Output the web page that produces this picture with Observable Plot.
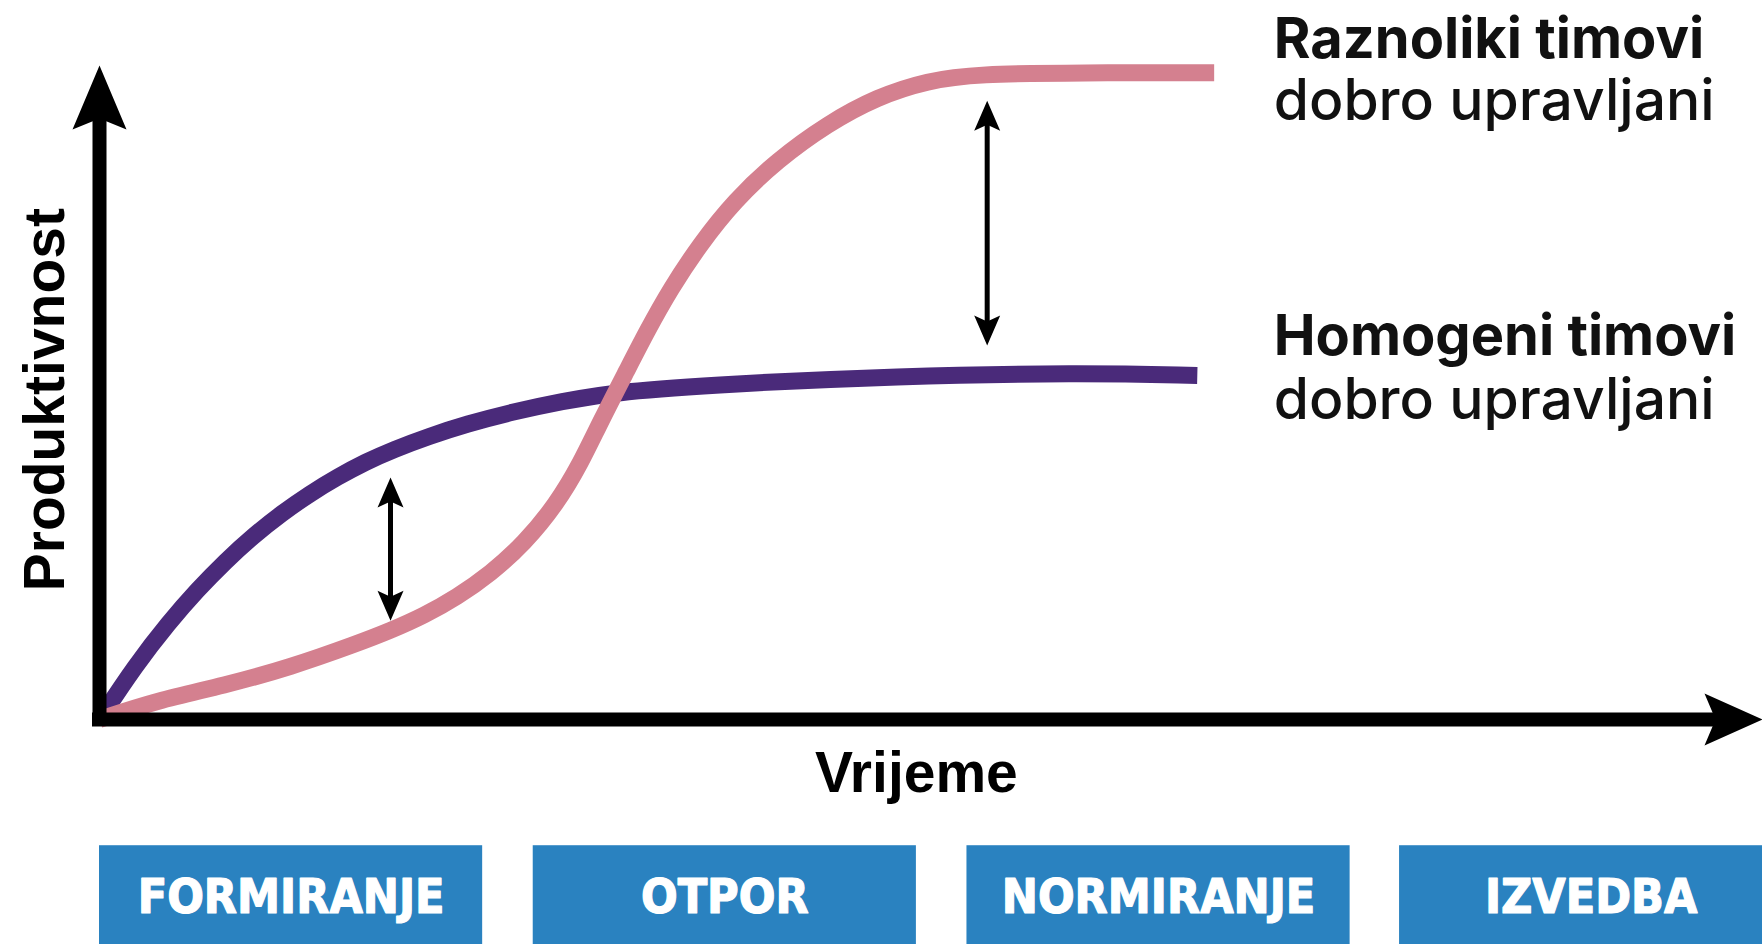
<!DOCTYPE html>
<html>
<head>
<meta charset="utf-8">
<script src="https://cdn.jsdelivr.net/npm/d3@7"></script>
<script src="https://cdn.jsdelivr.net/npm/@observablehq/plot@0.6"></script>
<style>
  html, body { margin: 0; padding: 0; background: #ffffff; }
  #chart svg { display: block; }
</style>
</head>
<body>
<div id="chart"></div>
<script>
// ---- Data ----
// Time axis units (0 = origin) and productivity units (0 = baseline, 100 = top of axis)
const homogeniTime = [0, 3.2, 6.2, 8.7, 11.2, 13.7, 16.2, 18.7, 21.2, 23.7, 26.2, 29.3, 32.7, 36.7, 41.0, 46.4, 55.9, 70.7, 87.3, 97.7];
const homogeniProd = [0, 8.3, 14.9, 19.8, 24.2, 28.1, 31.5, 34.5, 37.1, 39.4, 41.3, 43.3, 45.2, 47.0, 48.6, 50.2, 51.3, 52.5, 53.0, 52.6];

const raznolikiTime = [0, 5.1, 11.1, 17.0, 22.9, 25.9, 28.9, 31.8, 34.8, 37.8, 40.7, 42.8, 44.6, 47.0, 48.7, 50.8, 53.5, 56.5, 60.3, 64.8, 69.2, 73.7, 78.1, 87.3, 99.2];
const raznolikiProd = [0, 2.9, 5.2, 8.0, 11.6, 13.6, 15.9, 18.7, 22.3, 26.9, 33.0, 39.1, 45.6, 53.6, 59.3, 65.8, 72.8, 79.3, 85.5, 91.1, 95.2, 97.7, 98.7, 98.9, 98.9];

// Gap arrows between the two curves
const gapTime = [25.9, 79.0];
const gapLow  = [15.1, 57.2];
const gapHigh = [37.0, 94.6];

// Team-development phases (time spans)
const phases     = ["FORMIRANJE", "OTPOR", "NORMIRANJE", "IZVEDBA"];
const phaseStart = [0, 38.6, 77.2, 115.7];
const phaseEnd   = [34.1, 72.7, 111.3, 149.8];

// Labels
const seriesNames = ["Raznoliki timovi", "Homogeni timovi"];
const seriesSub   = ["dobro upravljani", "dobro upravljani"];
const yLabel = "Produktivnost";
const xLabel = "Vrijeme";

// ---- Layout constants ----
const X_MAX = 148, Y_MAX = 100;
const PINK = "#d4808f", PURPLE = "#4a2a7a", BLUE = "#2a82c0";

// Arrow-head symbol (notched triangle). dir: "right" | "up" | "down"
function head(dir, len, wid, notch) {
  const base = [[0, 0], [-len, -wid / 2], [-len + notch, 0], [-len, wid / 2]];
  const rot = dir === "right" ? ([a, b]) => [a, b]
            : dir === "up"    ? ([a, b]) => [b, -a]
            :                   ([a, b]) => [-b, a];
  const pts = base.map(rot);
  return {
    draw(ctx) {
      ctx.moveTo(pts[0][0], pts[0][1]);
      for (let i = 1; i < pts.length; ++i) ctx.lineTo(pts[i][0], pts[i][1]);
      ctx.closePath();
    }
  };
}

const homogeni = homogeniTime.map((t, i) => ({t, p: homogeniProd[i]}));
const raznoliki = raznolikiTime.map((t, i) => ({t, p: raznolikiProd[i]}));
const gaps = gapTime.map((t, i) => ({t, lo: gapLow[i], hi: gapHigh[i]}));
const phaseRows = phases.map((name, i) => ({name, x1: phaseStart[i], x2: phaseEnd[i]}));

const AXIS_FONT = "'Liberation Sans', Arial, sans-serif";
const LABEL_FONT = "Inter, 'Noto Sans', sans-serif";
const BOX_FONT = "'DejaVu Sans Condensed', 'DejaVu Sans', sans-serif";

const chart = Plot.plot({
  width: 1762,
  height: 944,
  marginLeft: 99,
  marginRight: 0,
  marginTop: 65,
  marginBottom: 225,
  x: {domain: [0, X_MAX], axis: null},
  y: {domain: [0, Y_MAX], axis: null},
  style: {background: "#ffffff", overflow: "visible"},
  marks: [
    // phase boxes
    Plot.rect(phaseRows, {x1: "x1", x2: "x2", y1: -19.3, y2: -36, fill: BLUE}),
    Plot.text(phaseRows, {
      x: d => (d.x1 + d.x2) / 2, y: -27.2, text: "name",
      fill: "white", stroke: "white", strokeWidth: 1.2,
      fontSize: 48, fontWeight: 700, fontFamily: BOX_FONT,
      lineAnchor: "middle"
    }),

    // curves
    Plot.line(homogeni, {x: "t", y: "p", stroke: PURPLE, strokeWidth: 17, curve: "basis", strokeLinecap: "butt", strokeLinejoin: "round"}),
    Plot.line(raznoliki, {x: "t", y: "p", stroke: PINK, strokeWidth: 17, curve: "basis", strokeLinecap: "butt", strokeLinejoin: "round"}),

    // axes (drawn as arrows)
    Plot.ruleX([0], {y1: Y_MAX, y2: 0, stroke: "black", strokeWidth: 14, strokeLinecap: "square", insetTop: 40}),
    Plot.ruleY([0], {x1: 0, x2: X_MAX, stroke: "black", strokeWidth: 14, strokeLinecap: "square", insetRight: 40}),
    Plot.dot([0], {x: 0, y: Y_MAX, r: 1, symbol: head("up", 64, 54, 11), fill: "black", stroke: "none"}),
    Plot.dot([0], {x: X_MAX, y: 0, r: 1, symbol: head("right", 58, 52, 11), fill: "black", stroke: "none"}),

    // gap arrows
    Plot.ruleX(gaps, {x: "t", y1: "hi", y2: "lo", stroke: "black", strokeWidth: 5, insetTop: 16, insetBottom: 16}),
    Plot.dot(gaps, {x: "t", y: "hi", r: 1, symbol: head("up", 30, 26, 6), fill: "black", stroke: "none"}),
    Plot.dot(gaps, {x: "t", y: "lo", r: 1, symbol: head("down", 30, 26, 6), fill: "black", stroke: "none"}),

    // axis titles
    Plot.text([yLabel], {x: -4.8, y: 48.9, text: d => d, rotate: -90, fontSize: 57, fontWeight: 700, fontFamily: AXIS_FONT, fill: "black", lineAnchor: "middle"}),
    Plot.text([xLabel], {x: 72.7, y: -8.3, text: d => d, fontSize: 57, fontWeight: 700, fontFamily: AXIS_FONT, fill: "black", lineAnchor: "middle"}),

    // series labels
    Plot.text([seriesNames[0]], {x: 104.5, y: 101.2, text: d => d, textAnchor: "start", lineAnchor: "bottom", fontSize: 56, fontWeight: 700, fontFamily: LABEL_FONT, fill: "#111"}),
    Plot.text([seriesSub[0]],   {x: 104.5, y: 91.6,  text: d => d, textAnchor: "start", lineAnchor: "bottom", fontSize: 57, fontWeight: 500, fontFamily: LABEL_FONT, fill: "#111"}),
    Plot.text([seriesNames[1]], {x: 104.5, y: 55.7,  text: d => d, textAnchor: "start", lineAnchor: "bottom", fontSize: 56, fontWeight: 700, fontFamily: LABEL_FONT, fill: "#111"}),
    Plot.text([seriesSub[1]],   {x: 104.5, y: 45.9,  text: d => d, textAnchor: "start", lineAnchor: "bottom", fontSize: 57, fontWeight: 500, fontFamily: LABEL_FONT, fill: "#111"})
  ]
});

document.getElementById("chart").appendChild(chart);
</script>
</body>
</html>
